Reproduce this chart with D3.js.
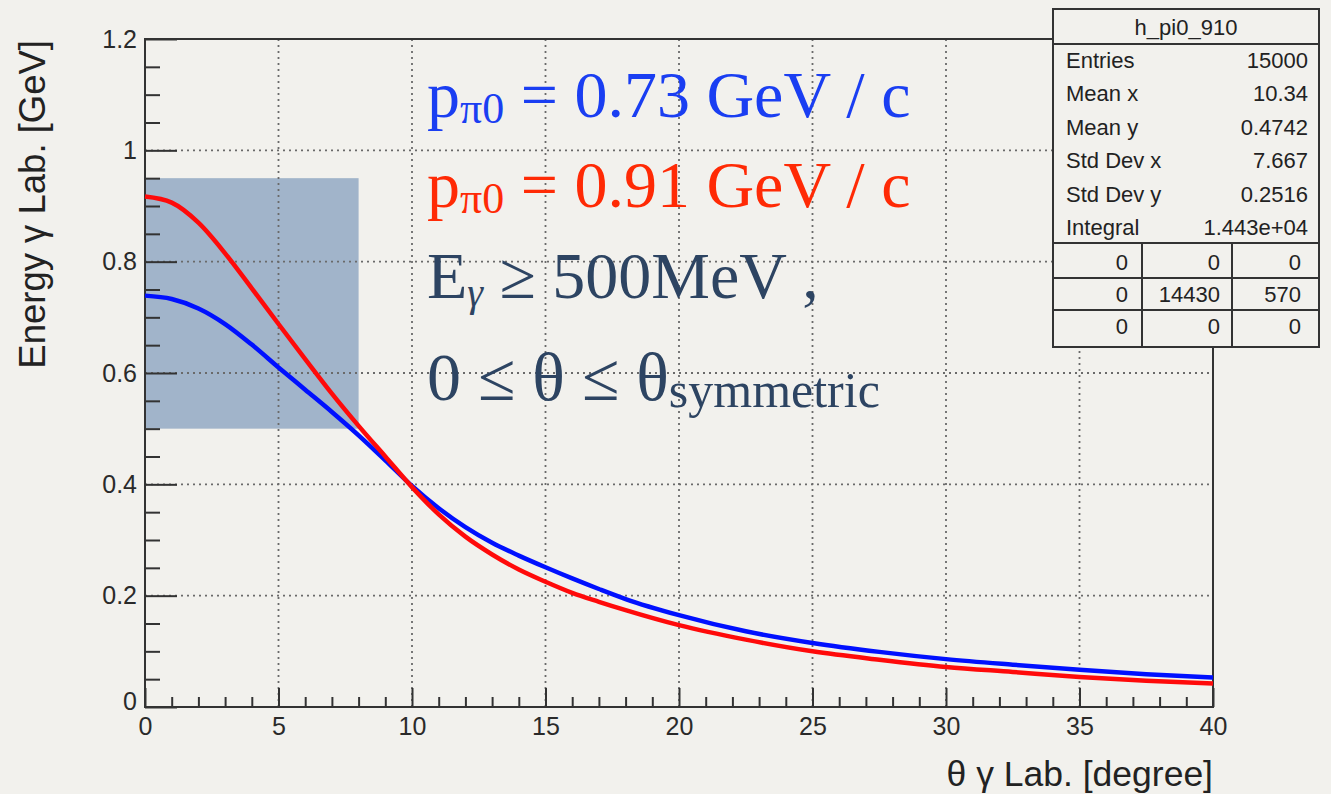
<!DOCTYPE html>
<html>
<head>
<meta charset="utf-8">
<script src="https://cdn.jsdelivr.net/npm/d3@7"></script>
<style>
  body { margin: 0; background: #f2f1ed; }
  svg { display: block; }
  .tick text { font-family: "Liberation Sans", Arial, sans-serif; fill: #2a2a2a; }
</style>
</head>
<body>
<div id="chart"></div>
<script>
// angle in degrees, energy in GeV
const theta = [0, 1, 2, 3, 4, 5, 6, 7, 8, 9, 10, 11, 12, 13, 14, 15, 16, 17, 18, 20, 22.5, 25, 27.5, 30, 32.5, 35, 37.5, 40];
const energyLow = [0.739, 0.733, 0.716, 0.688, 0.651, 0.610, 0.570, 0.530, 0.488, 0.443, 0.397, 0.357, 0.323, 0.295, 0.272, 0.251, 0.231, 0.212, 0.194, 0.165, 0.136, 0.115, 0.099, 0.086, 0.076, 0.067, 0.059, 0.053];
const energyHigh = [0.917, 0.906, 0.870, 0.815, 0.752, 0.688, 0.625, 0.563, 0.505, 0.450, 0.395, 0.346, 0.306, 0.274, 0.247, 0.225, 0.205, 0.189, 0.174, 0.147, 0.121, 0.100, 0.085, 0.072, 0.063, 0.054, 0.047, 0.042];

const xTicks = [0, 5, 10, 15, 20, 25, 30, 35, 40];
const yTicks = [0, 0.2, 0.4, 0.6, 0.8, 1, 1.2];
const yTickLabels = ['0', '0.2', '0.4', '0.6', '0.8', '1', '1.2'];

// selected region: theta 0..8, E 0.5..0.95
const regionX = [0, 8];
const regionY = [0.5, 0.95];

const statsTitle = 'h_pi0_910';
const statsNames = ['Entries', 'Mean x', 'Mean y', 'Std Dev x', 'Std Dev y', 'Integral'];
const statsValues = ['15000', '10.34', '0.4742', '7.667', '0.2516', '1.443e+04'];
const statsCells = [['0', '0', '0'], ['0', '14430', '570'], ['0', '0', '0']];

const W = 1331, H = 794;
const margin = {top: 39, right: 118, bottom: 87, left: 145};
const width = W - margin.left - margin.right;
const height = H - margin.top - margin.bottom;

const svg = d3.select('#chart')
    .append('svg')
    .attr('width', W)
    .attr('height', H);

svg.append('rect').attr('width', W).attr('height', H).attr('fill', '#f2f1ed');

const g = svg.append('g')
    .attr('transform', `translate(${margin.left},${margin.top})`);

const x = d3.scaleLinear().domain([0, 40]).range([0, width]);
const y = d3.scaleLinear().domain([0, 1.2]).range([height, 0]);

// shaded region
g.append('rect')
    .attr('x', x(regionX[0]))
    .attr('y', y(regionY[1]))
    .attr('width', x(regionX[1]) - x(regionX[0]))
    .attr('height', y(regionY[0]) - y(regionY[1]))
    .attr('fill', '#a1b4ca');

// dotted grid
g.selectAll('.gx')
    .data(xTicks.slice(1, -1))
    .enter().append('line')
    .attr('x1', d => x(d)).attr('x2', d => x(d))
    .attr('y1', 0).attr('y2', height)
    .attr('stroke', '#6a6a6a').attr('stroke-width', 1.8)
    .attr('stroke-dasharray', '2,4');

g.selectAll('.gy')
    .data(yTicks.slice(1, -1))
    .enter().append('line')
    .attr('x1', 0).attr('x2', width)
    .attr('y1', d => y(d)).attr('y2', d => y(d))
    .attr('stroke', '#6a6a6a').attr('stroke-width', 1.8)
    .attr('stroke-dasharray', '2,4');

// axes
const minorX = d3.range(0, 41, 1).filter(d => d % 5 !== 0);
const minorY = d3.range(0, 25).map(i => i * 0.05).filter((d, i) => i % 4 !== 0);

g.append('g')
    .attr('transform', `translate(0,${height})`)
    .call(d3.axisBottom(x).tickValues(xTicks).tickSize(-19).tickPadding(10).tickFormat(d3.format('d')));
g.append('g')
    .attr('transform', `translate(0,${height})`)
    .call(d3.axisBottom(x).tickValues(minorX).tickSize(-10).tickFormat(''));

const yAxis = g.append('g')
    .call(d3.axisLeft(y).tickValues(yTicks).tickSize(-32).tickPadding(8).tickFormat((d, i) => yTickLabels[i]));
g.append('g')
    .call(d3.axisLeft(y).tickValues(minorY).tickSize(-15).tickFormat(''));

g.selectAll('.domain').remove();
g.selectAll('.tick line').attr('stroke', '#333').attr('stroke-width', 2);
g.selectAll('.tick text').style('font-size', '25px');

// the "0" labels at the origin sit a bit apart
yAxis.selectAll('.tick text').filter(d => d === 0).attr('dy', '0.1em');

// frame
g.append('rect')
    .attr('width', width).attr('height', height)
    .attr('fill', 'none').attr('stroke', '#333').attr('stroke-width', 2);

// curves
const line = d3.line()
    .x((d, i) => x(theta[i]))
    .y(d => y(d))
    .curve(d3.curveMonotoneX);

g.append('path')
    .datum(energyLow)
    .attr('fill', 'none').attr('stroke', '#0010ff').attr('stroke-width', 4.5)
    .attr('d', line);

g.append('path')
    .datum(energyHigh)
    .attr('fill', 'none').attr('stroke', '#ff0a0a').attr('stroke-width', 4.5)
    .attr('d', line);

// axis titles
svg.append('text')
    .attr('transform', 'translate(45,40) rotate(-90)')
    .attr('text-anchor', 'end')
    .style('font-family', '"Liberation Sans", Arial, sans-serif')
    .style('font-size', '36.5px')
    .attr('fill', '#222')
    .text('Energy γ Lab. [GeV]');

svg.append('text')
    .attr('x', margin.left + width)
    .attr('y', 786)
    .attr('text-anchor', 'end')
    .style('font-family', '"Liberation Sans", Arial, sans-serif')
    .style('font-size', '35.5px')
    .attr('fill', '#222')
    .text('θ γ Lab. [degree]');

// annotation text
const serif = '"Liberation Serif", "DejaVu Serif", serif';
const ann = svg.append('g').style('font-family', serif);

function momentumLine(yBase, value, color) {
    const t = ann.append('text').attr('x', 427).attr('y', yBase).attr('fill', color).style('font-size', '66px');
    t.append('tspan').text('p');
    t.append('tspan').attr('dy', 6).style('font-size', '44px').text('π0');
    t.append('tspan').attr('dy', -6).text(' = ' + value + ' GeV / c');
}
momentumLine(117, '0.73', '#1a3ef2');
momentumLine(207, '0.91', '#ff2a05');

const t3 = ann.append('text').attr('x', 427).attr('y', 298).attr('fill', '#2d4462').style('font-size', '66px');
t3.append('tspan').text('E');
t3.append('tspan').attr('dy', 8).style('font-size', '40px').style('font-style', 'italic').text('γ');
t3.append('tspan').attr('dy', -8).text(' ≥ 500MeV ,');

const t4 = ann.append('text').attr('x', 427).attr('y', 400).attr('fill', '#2d4462').style('font-size', '68px');
t4.append('tspan').text('0 ≤ θ ≤ θ');
t4.append('tspan').attr('dy', 7).style('font-size', '50px').text('symmetric');

// stats box
const sb = {x0: 1053, x1: 1319, y0: 9, y1: 347};
const stats = svg.append('g').style('font-family', '"Liberation Sans", Arial, sans-serif').style('font-size', '22px').attr('fill', '#222');
stats.append('rect')
    .attr('x', sb.x0).attr('y', sb.y0)
    .attr('width', sb.x1 - sb.x0).attr('height', sb.y1 - sb.y0)
    .attr('fill', '#f2f1ed').attr('stroke', '#333').attr('stroke-width', 2);

stats.append('text').attr('x', (sb.x0 + sb.x1) / 2).attr('y', 35)
    .attr('text-anchor', 'middle').text(statsTitle);

const hLines = [44, 243, 278, 310];
stats.selectAll('.hl').data(hLines).enter().append('line')
    .attr('x1', sb.x0).attr('x2', sb.x1)
    .attr('y1', d => d).attr('y2', d => d)
    .attr('stroke', '#333').attr('stroke-width', 2);

const colLines = [1142, 1232];
stats.selectAll('.vl').data(colLines).enter().append('line')
    .attr('x1', d => d).attr('x2', d => d)
    .attr('y1', 243).attr('y2', sb.y1)
    .attr('stroke', '#333').attr('stroke-width', 2);

statsNames.forEach((name, i) => {
    const yy = 68 + i * 33.4;
    stats.append('text').attr('x', 1066).attr('y', yy).text(name);
    stats.append('text').attr('x', 1308).attr('y', yy).attr('text-anchor', 'end').text(statsValues[i]);
});

const cellRight = [1128, 1220, 1301];
const cellBase = [270, 302, 334];
statsCells.forEach((row, r) => {
    row.forEach((v, c) => {
        stats.append('text').attr('x', cellRight[c]).attr('y', cellBase[r])
            .attr('text-anchor', 'end').text(v);
    });
});
</script>
</body>
</html>
